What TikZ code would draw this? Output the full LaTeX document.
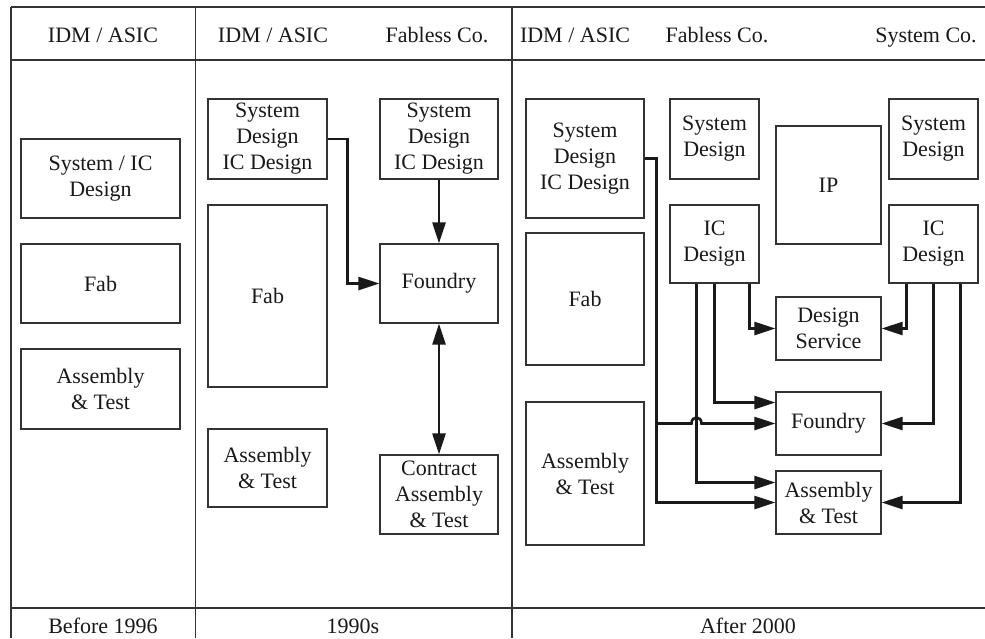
\documentclass[tikz,border=0pt]{standalone}
\usepackage{fontspec}
\setmainfont{Liberation Serif}
\usetikzlibrary{arrows.meta,calc}
\begin{document}
\begin{tikzpicture}[x=0.5pt,y=-0.5pt,
  every node/.style={font=\fontsize{11}{13}\selectfont, text=black!90},
  box/.style={draw=black!80, line width=0.65pt, inner sep=0pt, align=center},
  sz/.style 2 args={minimum width=#1*0.5pt, minimum height=#2*0.5pt},
  rule/.style={draw=black!80, line width=0.75pt},
  tip/.style={-{Triangle[length=10.5pt,width=6.5pt]}},
  conn/.style={draw=black!90, line width=1.3pt, tip},
  both/.style={draw=black!90, line width=1.3pt,
    {Triangle[length=10.5pt,width=6.5pt]}-{Triangle[length=10.5pt,width=6.5pt]}},
  head/.style={anchor=base}]
\useasboundingbox (0,0) rectangle (985,638);

% table frame
\draw[rule] (11,7) -- (985,7);
\draw[rule] (11,60) -- (985,60);
\draw[rule] (11,608) -- (985,608);
\draw[rule] (11,7) -- (11,638);
\draw[rule] (195.5,7) -- (195.5,638);
\draw[rule] (512,7) -- (512,638);

% column headings
\node[head] (h1) at (103,42) {IDM / ASIC};
\node[head] (h2) at (273,42) {IDM / ASIC};
\node[head] (h3) at (437,42) {Fabless Co.};
\node[head] (h4) at (575,42) {IDM / ASIC};
\node[head] (h5) at (717,42) {Fabless Co.};
\node[head] (h6) at (926,42) {System Co.};

% period labels
\node[head] (p1) at (103,633) {Before 1996};
\node[head] (p2) at (353,633) {1990s};
\node[head] (p3) at (748,633) {After 2000};

% before 1996
\node[box, sz={159}{79}] (a1) at (100.5,178.5) {System / IC\\Design};
\node[box, sz={159}{79}] (a2) at (100.5,283.5) {Fab};
\node[box, sz={159}{80}] (a3) at (100.5,389) {Assembly\\\& Test};

% 1990s
\node[box, sz={119}{80}]  (b1) at (267.5,139) {System\\Design\\IC Design};
\node[box, sz={119}{182}] (b2) at (267.5,296) {Fab};
\node[box, sz={119}{78}]  (b3) at (267.5,468) {Assembly\\\& Test};
\node[box, sz={118}{80}]  (b4) at (439,139) {System\\Design\\IC Design};
\node[box, sz={118}{79}]  (b5) at (439,283.5) {Foundry};
\node[box, sz={118}{79}]  (b6) at (439,494.5) {Contract\\Assembly\\\& Test};

\draw[conn] (b1.east) -- ++(20,0) |- (b5.west);
\draw[conn] (b4.south) -- (b5.north);
\draw[both] (b5.south) -- (b6.north);

% after 2000
\node[box, sz={118}{119}] (c1) at (585,158.5) {System\\Design\\IC Design};
\node[box, sz={118}{132}] (c2) at (585,299) {Fab};
\node[box, sz={118}{143}] (c3) at (585,473.5) {Assembly\\\& Test};
\node[box, sz={89}{80}]   (d1) at (714.5,139) {System\\Design};
\node[box, sz={89}{78}]   (d2) at (714.5,244) {IC\\Design};
\node[box, sz={105}{118}] (ip) at (828.5,185) {IP};
\node[box, sz={89}{80}]   (e1) at (933.5,139) {System\\Design};
\node[box, sz={89}{78}]   (e2) at (933.5,244) {IC\\Design};
\node[box, sz={105}{63}]  (ds) at (828.5,328.5) {Design\\Service};
\node[box, sz={105}{63}]  (fd) at (828.5,423.5) {Foundry};
\node[box, sz={105}{63}]  (at) at (828.5,502.5) {Assembly\\\& Test};

\coordinate (trunk) at ($(c1.east)+(12,0)$);
\coordinate (dropA) at ($(d2.south)+(-18,0)$);
\coordinate (dropC) at ($(d2.south)+(35,0)$);
\coordinate (dropD) at ($(e2.south)+(-27,0)$);
\coordinate (dropF) at ($(e2.south)+(27,0)$);

% IDM / ASIC outsourcing
\draw[conn] (c1.east) -- (trunk) |- (at.west);
\draw[conn] (trunk |- fd.west) -- ($(dropA |- fd.west)+(-5,0)$)
  .. controls +(0,-8) and +(0,-8) .. ++(10,0) -- (fd.west);

% fabless IC design
\draw[conn] (dropA) |- ($(at.west)+(0,-20)$);
\draw[conn] (d2.south) |- ($(fd.west)+(0,-21)$);
\draw[conn] (dropC) |- (ds.west);

% system company IC design
\draw[conn] (dropD) |- (ds.east);
\draw[conn] (e2.south) |- (fd.east);
\draw[conn] (dropF) |- (at.east);
\end{tikzpicture}
\end{document}
